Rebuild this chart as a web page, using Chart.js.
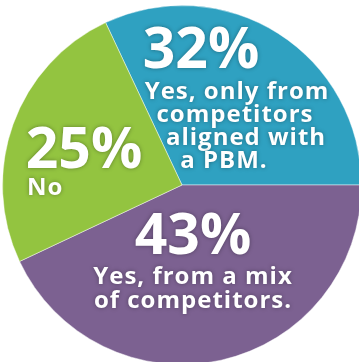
<!DOCTYPE html>
<html>
<head>
<meta charset="utf-8">
<script src="https://cdn.jsdelivr.net/npm/chart.js@4.4.1/dist/chart.umd.min.js"></script>
<style>
  html, body { margin: 0; padding: 0; background: #fff; overflow: hidden; }
  body { width: 359px; height: 362px; position: relative; }
  #wrap { position: absolute; left: 2px; top: 5px; width: 360px; height: 360px; }
</style>
</head>
<body>
<div id="wrap"><canvas id="pie-chart"></canvas></div>
<script>
// Survey answers
const categories = ['Yes, only from competitors aligned with a PBM.', 'Yes, from a mix of competitors.', 'No'];
const shares = [32, 43, 25];
const sliceColors = ['#2fa1c1', '#7c6191', '#93c440'];

// Label text per slice: big percentage plus wrapped description
const bigLabels = shares.map(v => v + '%');
const descLines = [
    ['Yes, only from', 'competitors', 'aligned with', 'a PBM.'],
    ['Yes, from a mix', 'of competitors.'],
    ['No']
];

// Where each label block sits, as offsets from the pie centre
const labelLayout = [
    {big: {x: 19, y: -133}, lines: [{x: 55, y: -93, align: 'center'}, {x: 53, y: -70, align: 'center'}, {x: 64, y: -47, align: 'center'}, {x: 42, y: -24, align: 'center'}]},
    {big: {x: 11, y: 53}, lines: [{x: 11, y: 92, align: 'center'}, {x: 11, y: 116, align: 'center'}]},
    {big: {x: -98, y: -33}, lines: [{x: -155, y: 3, align: 'left'}]}
];

const pieLabels = {
    id: 'pieLabels',
    afterDatasetsDraw(chart) {
        const ctx = chart.ctx;
        const arc = chart.getDatasetMeta(0).data[0];
        const cx = arc.x, cy = arc.y;
        ctx.save();
        ctx.fillStyle = '#ffffff';
        ctx.shadowColor = 'rgba(0,0,0,0.35)';
        ctx.shadowBlur = 4;
        ctx.textBaseline = 'middle';
        labelLayout.forEach((lay, i) => {
            ctx.font = '700 57px "Open Sans"';
            ctx.letterSpacing = '0px';
            ctx.textAlign = 'center';
            ctx.fillText(bigLabels[i], cx + lay.big.x, cy + lay.big.y);
            ctx.font = '700 24px "Open Sans"';
            ctx.letterSpacing = '1px';
            descLines[i].forEach((line, j) => {
                const p = lay.lines[j];
                ctx.textAlign = p.align;
                ctx.fillText(line, cx + p.x, cy + p.y);
            });
        });
        ctx.restore();
    }
};

const total = shares.reduce((a, b) => a + b, 0);
const pieCtx = document.getElementById('pie-chart').getContext('2d');
new Chart(pieCtx, {
    type: 'pie',
    data: {
        labels: categories,
        datasets: [{
            data: shares,
            backgroundColor: sliceColors,
            borderColor: 'rgba(255,255,255,0.45)',
            borderWidth: 1
        }]
    },
    options: {
        responsive: true,
        maintainAspectRatio: false,
        animation: false,
        // first slice ends at three o'clock
        rotation: 90 - shares[0] / total * 360,
        layout: { padding: 0 },
        plugins: {
            legend: { display: false },
            tooltip: { enabled: false }
        }
    },
    plugins: [pieLabels]
});
</script>
</body>
</html>
